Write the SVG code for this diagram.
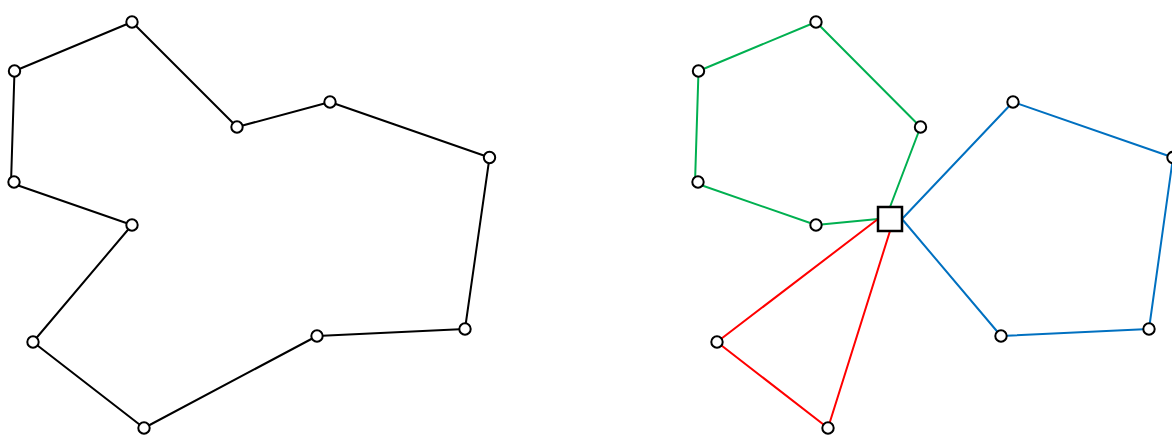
<svg xmlns="http://www.w3.org/2000/svg" width="1172" height="435" viewBox="0 0 1172 435">
<style>
.e{fill:none;stroke-width:2;stroke-linejoin:round}
.k{stroke:#000}
.g{stroke:#00b050}
.r{stroke:#ff0000}
.b{stroke:#0070c0}
.n{fill:#fff;stroke:#000;stroke-width:2}
</style>
<rect width="1172" height="435" fill="#fff"/>
<g id="connectors">
<polygon class="e k" points="14.5,71 132,22 237,127 330,102 489.5,157.5 465,329 317,336 144,428 33,342 132,225 11,183"/>
<polyline class="e g" points="890,207 920.5,127 816,22 698.5,71 695,183 816,225 878,219"/>
<polyline class="e r" points="878,219 717,342 828,428 890,231"/>
<polyline class="e b" points="902,219 1013,102 1173,157.5 1149,329 1001,336 902,219"/>
</g>
<g id="n1"><circle class="n" cx="14.5" cy="71" r="5.7"/></g>
<g id="n2"><circle class="n" cx="132" cy="22" r="5.7"/></g>
<g id="n3"><circle class="n" cx="237" cy="127" r="5.7"/></g>
<g id="n4"><circle class="n" cx="330" cy="102" r="5.7"/></g>
<g id="n5"><circle class="n" cx="489.5" cy="157.5" r="5.7"/></g>
<g id="n6"><circle class="n" cx="465" cy="329" r="5.7"/></g>
<g id="n7"><circle class="n" cx="317" cy="336" r="5.7"/></g>
<g id="n8"><circle class="n" cx="144" cy="428" r="5.7"/></g>
<g id="n9"><circle class="n" cx="33" cy="342" r="5.7"/></g>
<g id="n10"><circle class="n" cx="132" cy="225" r="5.7"/></g>
<g id="n11"><circle class="n" cx="14" cy="182" r="5.7"/></g>
<g id="g1"><circle class="n" cx="698.5" cy="71" r="5.7"/></g>
<g id="g2"><circle class="n" cx="816" cy="22" r="5.7"/></g>
<g id="g3"><circle class="n" cx="920.5" cy="127" r="5.7"/></g>
<g id="g4"><circle class="n" cx="816" cy="225" r="5.7"/></g>
<g id="g5"><circle class="n" cx="698" cy="182" r="5.7"/></g>
<g id="r1"><circle class="n" cx="717" cy="342" r="5.7"/></g>
<g id="r2"><circle class="n" cx="828" cy="428" r="5.7"/></g>
<g id="b1"><circle class="n" cx="1013" cy="102" r="5.7"/></g>
<g id="b2"><circle class="n" cx="1173" cy="157.5" r="5.7"/></g>
<g id="b3"><circle class="n" cx="1149" cy="329" r="5.7"/></g>
<g id="b4"><circle class="n" cx="1001" cy="336" r="5.7"/></g>
<g id="hub"><rect x="878" y="207" width="24" height="24" fill="#fff" stroke="#000" stroke-width="2.5"/></g>
</svg>
